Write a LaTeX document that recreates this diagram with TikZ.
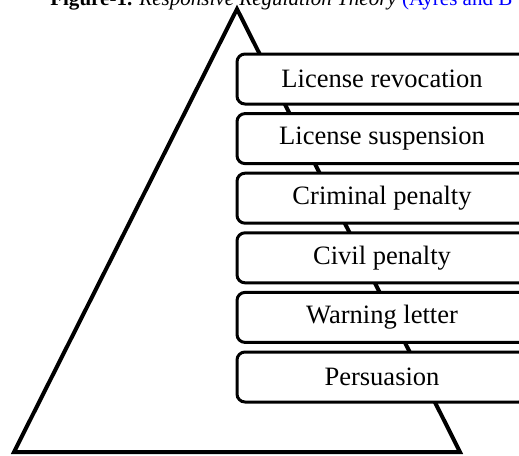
\documentclass[tikz,border=0pt]{standalone}
\usepackage{fontspec}
\setmainfont{Liberation Serif}
\definecolor{citeblue}{RGB}{0, 0, 255}
\usetikzlibrary{positioning}

\tikzset{
    level/.style={draw, rounded corners=6pt, line width=2.25pt, fill=white,
        minimum width=217.5pt, minimum height=37.5pt, inner sep=0pt,
        font=\fontsize{19.9}{24}\selectfont},
    pyramid/.style={draw, line width=3pt, line join=miter}
}

\begin{document}
\begin{tikzpicture}[x=0.75pt, y=-0.75pt]
    \useasboundingbox (0,0) rectangle (519,455);
    \clip (0,0) rectangle (519,455);
    % caption, cut at the top of the picture
    \node[anchor=base west, inner sep=0pt, font=\fontsize{15.8}{19}\selectfont] (caption) at (50,5)
        {\textbf{Figure-1.} \textit{Responsive Regulation Theory} \textcolor{citeblue}{(Ayres and B}};
    % the pyramid behind the boxes
    \coordinate (top) at (237,9);
    \coordinate (left) at (14,452);
    \coordinate (right) at (460,452);
    \draw[pyramid] (top) -- (right) -- (left) -- cycle;
    % levels of enforcement
    \node[level] (revoke) at (382,79) {License revocation};
    \node[level] (suspend) at (382,138.6) {License suspension};
    \node[level] (criminal) at (382,198.2) {Criminal penalty};
    \node[level] (civil) at (382,257.8) {Civil penalty};
    \node[level] (warning) at (382,317.4) {Warning letter};
    \node[level] (persuade) at (382,377) {Persuasion};
\end{tikzpicture}
\end{document}
